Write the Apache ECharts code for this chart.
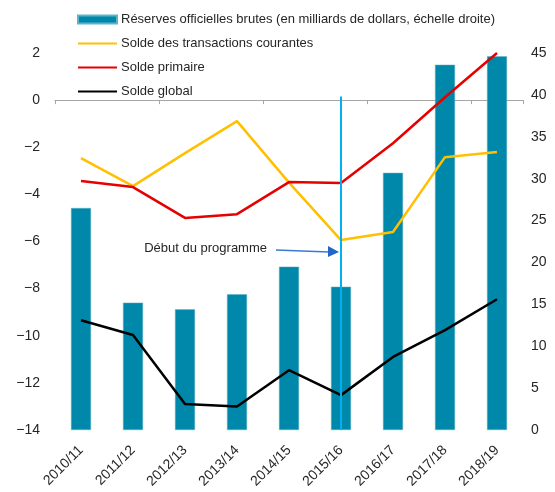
<!DOCTYPE html>
<html>
<head>
<meta charset="utf-8">
<script src="https://cdn.jsdelivr.net/npm/echarts@6/dist/echarts.min.js"></script>
<style>
  html, body { margin: 0; padding: 0; background: #fff; }
  #chart { width: 555px; height: 492px; }
</style>
</head>
<body>
<div id="chart"></div>
<script>
var categories = ['2010/11', '2011/12', '2012/13', '2013/14', '2014/15', '2015/16', '2016/17', '2017/18', '2018/19'];
// réserves, échelle droite (milliards de dollars)
var reserves = [26.5, 15.2, 14.4, 16.2, 19.5, 17.1, 30.7, 43.6, 44.6];
// soldes, échelle gauche
var currentAccount = [-2.46, -3.65, -2.25, -0.89, -3.5, -5.94, -5.6, -2.42, -2.2];
var primaryBalance = [-3.43, -3.69, -5.0, -4.84, -3.48, -3.52, -1.83, 0.12, 2.0];
var overallBalance = [-9.34, -9.97, -12.9, -13.0, -11.46, -12.52, -10.9, -9.76, -8.45];
var leftTicks = [-14, 2, 2];   // min, max, interval
var rightTicks = [0, 45, 5];
var programStart = '2015/16';
var annotation = 'Début du programme';

var tickFont = "'Liberation Sans', Arial, sans-serif";

var chart = echarts.init(document.getElementById('chart'), null, { renderer: 'canvas' });

function minus(v) {
  return String(v).replace('-', '\u2212');
}

var noSymbol = { opacity: 0 };

var option = {
  animation: false,
  grid: { left: 55, right: 32, top: 53, bottom: 62 },
  legend: {
    orient: 'vertical',
    left: 72,
    top: 8,
    itemWidth: 39,
    itemHeight: 8,
    itemGap: 11,
    textStyle: { fontFamily: tickFont, fontSize: 13, color: '#262626', padding: [0, 0, 0, -1] },
    data: [
      { name: 'Réserves officielles brutes (en milliards de dollars, échelle droite)', icon: 'rect' },
      { name: 'Solde des transactions courantes', itemStyle: noSymbol },
      { name: 'Solde primaire', itemStyle: noSymbol },
      { name: 'Solde global', itemStyle: noSymbol }
    ]
  },
  xAxis: [{
    type: 'category',
    data: categories,
    axisLine: { onZero: true, lineStyle: { color: '#a6a6a6', width: 1 } },
    axisTick: { show: true, length: 4, lineStyle: { color: '#a6a6a6' } },
    axisLabel: { show: false }
  }, {
    type: 'category',
    data: categories,
    position: 'bottom',
    axisLine: { show: false },
    axisTick: { show: false },
    axisLabel: { rotate: 45, margin: 18, fontFamily: tickFont, fontSize: 14, color: '#262626' }
  }],
  yAxis: [{
    type: 'value',
    min: leftTicks[0],
    max: leftTicks[1],
    interval: leftTicks[2],
    axisLine: { show: false },
    axisTick: { show: false },
    splitLine: { show: false },
    axisLabel: { margin: 15, fontFamily: tickFont, fontSize: 14, color: '#262626', formatter: minus }
  }, {
    type: 'value',
    min: rightTicks[0],
    max: rightTicks[1],
    interval: rightTicks[2],
    axisLine: { show: false },
    axisTick: { show: false },
    splitLine: { show: false },
    axisLabel: { margin: 8, fontFamily: tickFont, fontSize: 14, color: '#262626' }
  }],
  series: [{
    name: 'Réserves officielles brutes (en milliards de dollars, échelle droite)',
    type: 'bar',
    xAxisIndex: 0,
    yAxisIndex: 1,
    data: reserves,
    barWidth: 20,
    itemStyle: { color: '#0088aa', borderColor: '#5fb3c9', borderWidth: 0.5 }
  }, {
    name: 'Solde des transactions courantes',
    type: 'line',
    yAxisIndex: 0,
    data: currentAccount,
    symbol: 'none',
    lineStyle: { color: '#ffc000', width: 2.5 },
    itemStyle: { color: '#ffc000' }
  }, {
    name: 'Solde primaire',
    type: 'line',
    yAxisIndex: 0,
    data: primaryBalance,
    symbol: 'none',
    lineStyle: { color: '#e60000', width: 2.5 },
    itemStyle: { color: '#e60000' },
    markLine: {
      silent: true,
      symbol: 'none',
      label: { show: false },
      lineStyle: { color: '#00b0f0', width: 2, type: 'solid' },
      data: [[{ coord: [programStart, 0.15] }, { coord: [programStart, leftTicks[0]] }]]
    }
  }, {
    name: 'Solde global',
    type: 'line',
    yAxisIndex: 0,
    data: overallBalance,
    symbol: 'none',
    lineStyle: { color: '#000000', width: 2.5 },
    itemStyle: { color: '#000000' }
  }]
};

chart.setOption(option);

// annotation : texte + flèche vers le début du programme
var tip = chart.convertToPixel({ xAxisIndex: 0, yAxisIndex: 0 }, [programStart, -6.4]);
var tx = tip[0] - 2, ty = tip[1];
chart.setOption({
  graphic: [{
    type: 'text',
    right: 555 - (tx - 72),
    top: ty - 9,
    style: { text: annotation, font: '13px ' + tickFont, fill: '#262626', textAlign: 'right' }
  }, {
    type: 'line',
    shape: { x1: tx - 63, y1: ty - 1, x2: tx - 10, y2: ty + 1 },
    style: { stroke: '#3a78d8', lineWidth: 1.5 }
  }, {
    type: 'polygon',
    shape: { points: [[tx, ty + 1], [tx - 11, ty - 5], [tx - 11, ty + 6]] },
    style: { fill: '#2266cc' }
  }]
});
</script>
</body>
</html>
